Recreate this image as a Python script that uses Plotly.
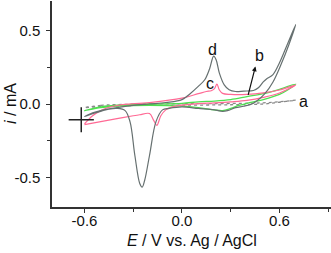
import plotly.graph_objects as go

# curve a (dotted grey)
a_v = [-0.6, -0.5, -0.4, -0.2, 0.0, 0.2, 0.4, 0.5, 0.6, 0.7, 0.6, 0.5, 0.3, 0.0, -0.3, -0.5, -0.6]
a_i = [-0.025, -0.01, -0.004, 0.0, 0.002, 0.003, 0.005, 0.008, 0.015, 0.026, 0.012, 0.0, -0.005, -0.008, -0.01, -0.018, -0.025]

# curve b (green)
b_v = [-0.6, -0.5, -0.4, -0.2, 0.0, 0.1, 0.2, 0.3, 0.4, 0.5, 0.6, 0.7,
       0.65, 0.6, 0.5, 0.4, 0.35, 0.3, 0.25, 0.2, 0.1, 0.0, -0.2, -0.4, -0.5, -0.6]
b_i = [-0.045, -0.02, -0.008, 0.0, 0.004, 0.015, 0.02, 0.03, 0.05, 0.07, 0.1, 0.135,
       0.095, 0.065, 0.03, 0.005, -0.01, -0.03, -0.045, -0.04, -0.025, -0.015, -0.01, -0.015, -0.025, -0.045]

# curve c (pink)
c_v = [-0.6, -0.55, -0.5, -0.45, -0.4, -0.35, -0.2, 0.0, 0.1, 0.15, 0.18, 0.2, 0.215, 0.23, 0.25, 0.3, 0.4, 0.5, 0.6, 0.7,
       0.6, 0.5, 0.4, 0.3, 0.2, 0.1, 0.0, -0.06, -0.1, -0.13, -0.155, -0.175, -0.2, -0.26, -0.3, -0.4, -0.5, -0.6]
c_i = [-0.135, -0.08, -0.045, -0.022, -0.01, -0.003, 0.01, 0.04, 0.07, 0.085, 0.09, 0.105, 0.135, 0.095, 0.072, 0.065, 0.065, 0.075, 0.095, 0.13,
       0.075, 0.045, 0.025, 0.015, 0.008, 0.003, -0.008, -0.02, -0.04, -0.08, -0.145, -0.11, -0.065, -0.073, -0.08, -0.1, -0.12, -0.14]

# curve d (dark grey)
d_v = [-0.6, -0.55, -0.5, -0.4, -0.3, -0.2, -0.1, 0.0, 0.05, 0.1, 0.14, 0.17, 0.195, 0.21, 0.23, 0.26, 0.29, 0.33, 0.38, 0.44, 0.47, 0.5, 0.52, 0.56, 0.6, 0.65, 0.7,
       0.66, 0.61, 0.56, 0.51, 0.46, 0.43, 0.38, 0.33, 0.28, 0.25, 0.2, 0.1, 0.0, -0.08, -0.12, -0.16, -0.2, -0.23, -0.245, -0.26, -0.29, -0.32, -0.35, -0.4, -0.45, -0.5, -0.55, -0.6]
d_i = [-0.085, -0.06, -0.045, -0.025, -0.01, 0.0, 0.01, 0.03, 0.07, 0.12, 0.165, 0.24, 0.325, 0.3, 0.21, 0.13, 0.097, 0.085, 0.088, 0.092, 0.11, 0.15, 0.17, 0.2, 0.28, 0.41, 0.54,
       0.41, 0.27, 0.15, 0.07, 0.02, 0.0, -0.015, -0.025, -0.045, -0.05, -0.04, -0.03, -0.02, -0.03, -0.04, -0.12, -0.35, -0.52, -0.565, -0.54, -0.35, -0.12, -0.045, -0.03, -0.035, -0.05, -0.065, -0.085]

labels = ["a", "b", "c", "d"]
label_v = [0.745, 0.475, 0.17, 0.19]
label_i = [0.02, 0.33, 0.14, 0.37]
arrow_tail = (0.405, 0.052)
arrow_head = (0.452, 0.255)
cross_pt = (-0.62, -0.107)

FONT = "Liberation Sans, Arial, sans-serif"
fig = go.Figure()
fig.add_trace(go.Scatter(x=a_v, y=a_i, mode="lines", line=dict(color="#8a8a8a", width=1.3, dash="dot"), line_shape="spline"))
fig.add_trace(go.Scatter(x=b_v, y=b_i, mode="lines", line=dict(color="#4fe04f", width=1.3), line_shape="spline"))
fig.add_trace(go.Scatter(x=c_v, y=c_i, mode="lines", line=dict(color="#ff6a95", width=1.2), line_shape="spline"))
fig.add_trace(go.Scatter(x=d_v, y=d_i, mode="lines", line=dict(color="#667070", width=1.2), line_shape="spline"))
fig.add_trace(go.Scatter(x=[cross_pt[0]], y=[cross_pt[1]], mode="markers",
                         marker=dict(symbol="cross-thin", size=18, line=dict(color="#222", width=1.5))))

for t, x, y in zip(labels, label_v, label_i):
    fig.add_annotation(x=x, y=y, text=t, showarrow=False, font=dict(family=FONT, size=16, color="#111"))
fig.add_annotation(x=arrow_head[0], y=arrow_head[1], ax=arrow_tail[0], ay=arrow_tail[1], axref="x", ayref="y",
                   xref="x", yref="y", text="", showarrow=True, arrowhead=2, arrowsize=0.8, arrowwidth=1.2, arrowcolor="#111")

# axis titles as annotations
fig.add_annotation(xref="paper", yref="paper", x=0.5, y=0, yshift=-33, yanchor="middle", showarrow=False,
                   text="<i>E</i> / V vs. Ag / AgCl", font=dict(family=FONT, size=16, color="#111"))
fig.add_annotation(xref="paper", yref="paper", x=0, y=0.5, xshift=-42, xanchor="center", yanchor="middle", textangle=-90,
                   showarrow=False, text="<i>i</i> / mA", font=dict(family=FONT, size=16, color="#111"))

fig.update_layout(
    width=331, height=253, margin=dict(l=52, r=0, t=1, b=46),
    paper_bgcolor="white", plot_bgcolor="white", showlegend=False,
    font=dict(family=FONT, size=15, color="#111"),
)
fig.update_xaxes(range=[-0.8, 0.917], tickmode="array", tickvals=[-0.6, 0.0, 0.6], ticktext=["-0.6", "0.0", "0.6"],
                 showline=True, linecolor="#333", linewidth=1.5, ticks="outside", ticklen=4, tickcolor="#333",
                 ticklabelstandoff=-5, tickfont=dict(size=15),
                 minor=dict(tickvals=[-0.3, 0.3, 0.9], ticks="outside", ticklen=3, tickcolor="#333"),
                 showgrid=False, zeroline=False, automargin=False)
fig.update_yaxes(range=[-0.7, 0.7], tickmode="array", tickvals=[-0.5, 0.0, 0.5], ticktext=["-0.5", "0.0", "0.5"],
                 showline=True, linecolor="#333", linewidth=1.5, ticks="outside", ticklen=4, tickcolor="#333",
                 ticklabelstandoff=3, tickfont=dict(size=15),
                 minor=dict(tickvals=[-0.25, 0.25], ticks="outside", ticklen=3, tickcolor="#333"),
                 showgrid=False, zeroline=False, automargin=False)
fig.write_html("out.html", config={"displayModeBar": False},
               post_script="document.body.style.margin='0';document.body.style.overflow='hidden';")
